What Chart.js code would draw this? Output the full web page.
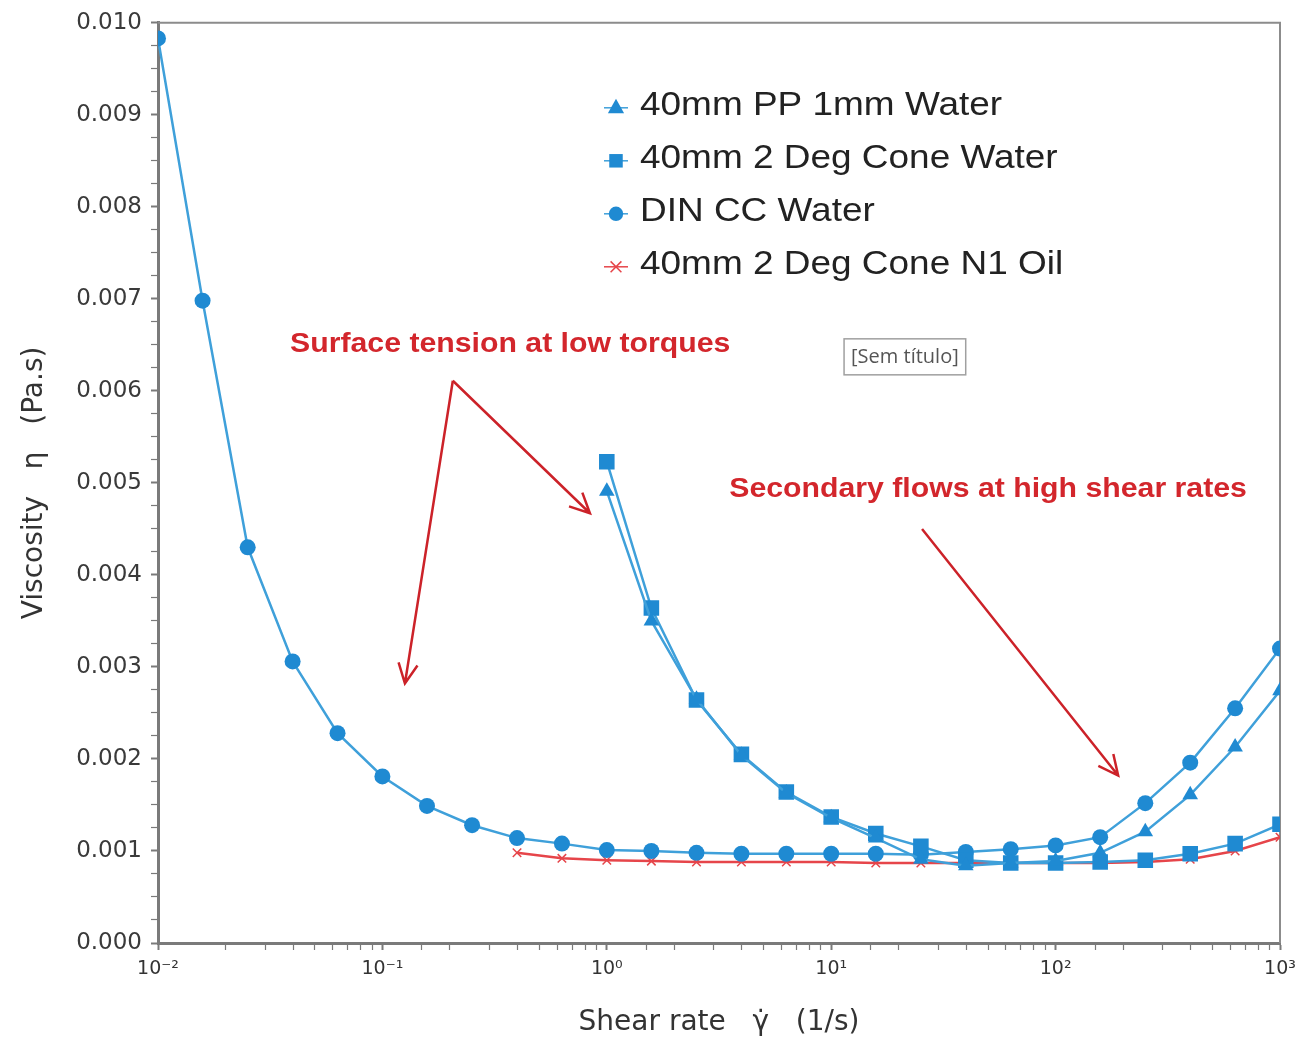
<!DOCTYPE html>
<html>
<head>
<meta charset="utf-8">
<title>Viscosity vs shear rate</title>
<script src="https://cdn.jsdelivr.net/npm/chart.js@4.4.1/dist/chart.umd.min.js"></script>
<style>
    body { margin: 0; background: #fff; }
    #wrap { width: 1307px; height: 1044px; position: relative; }
</style>
</head>
<body>
<div id="wrap"><canvas id="chartViscosity"></canvas></div>
<script>
// shear rate (1/s), 5 points per decade
const shearRate = [0.01, 0.0158, 0.0251, 0.0398, 0.0631, 0.1, 0.158, 0.251, 0.398, 0.631,
    1, 1.58, 2.51, 3.98, 6.31, 10, 15.8, 25.1, 39.8, 63.1, 100, 158, 251, 398, 631, 1000];

// viscosity (Pa.s)
const ppWater = [null, null, null, null, null, null, null, null, null, null,
    0.00491, 0.00350, 0.00265, 0.00204, 0.00163, 0.00136, 0.00114, 0.00091, 0.00084, 0.00087,
    0.00089, 0.00098, 0.00121, 0.00161, 0.00213, 0.00274];
const coneWater = [null, null, null, null, null, null, null, null, null, null,
    0.00523, 0.00364, 0.00264, 0.00205, 0.00164, 0.00137, 0.00119, 0.00105, 0.00090, 0.00087,
    0.00087, 0.00088, 0.00090, 0.00097, 0.00108, 0.00129];
const dinWater = [0.00983, 0.00698, 0.00430, 0.00306, 0.00228, 0.00181, 0.00149, 0.00128, 0.00114, 0.00108,
    0.00101, 0.00100, 0.00098, 0.00097, 0.00097, 0.00097, 0.00097, 0.00096, 0.00099, 0.00102,
    0.00106, 0.00115, 0.00152, 0.00196, 0.00255, 0.00320];
const coneOil = [null, null, null, null, null, null, null, null,
    0.00098, 0.00092, 0.00090, 0.00089, 0.00088, 0.00088, 0.00088, 0.00088, 0.00087, 0.00087,
    0.00087, 0.00087, 0.00087, 0.00087, 0.00088, 0.00091, 0.00100, 0.00115];

const seriesNames = ['40mm PP 1mm Water', '40mm 2 Deg Cone Water', 'DIN CC Water', '40mm 2 Deg Cone N1 Oil'];

const yTicksMajor = [0, 0.001, 0.002, 0.003, 0.004, 0.005, 0.006, 0.007, 0.008, 0.009, 0.010];
const xTicksMajor = [0.01, 0.1, 1, 10, 100, 1000];

const BLUE = '#1f8ad2';
const BLUE_LINE = '#3fa0da';
const RED = '#e6454a';

// the source figure's lettering is a bit wider than the installed fonts
const STRETCH = 1.12;

function points(ys) {
    return shearRate.map((x, i) => ({ x: x, y: ys[i] })).filter(p => p.y !== null);
}

function superscript(n) {
    const map = { '-': '\u207B', '0': '\u2070', '1': '\u00B9', '2': '\u00B2', '3': '\u00B3',
        '4': '\u2074', '5': '\u2075', '6': '\u2076', '7': '\u2077', '8': '\u2078', '9': '\u2079' };
    return String(n).split('').map(c => map[c]).join('');
}

function isDecade(v) {
    return xTicksMajor.some(t => Math.abs(t - v) / t < 1e-6);
}

function isMajorY(v) {
    return yTicksMajor.some(t => Math.abs(t - v) < 1e-7);
}

// annotations, placed in data coordinates
const notes = [
    { text: 'Surface tension at low torques', x: 0.371, y: 0.00650 },
    { text: 'Secondary flows at high shear rates', x: 50, y: 0.00493 }
];
const arrows = [
    { from: [0.206, 0.00611], to: [0.841, 0.00467] },
    { from: [0.206, 0.00611], to: [0.126, 0.00282] },
    { from: [25.4, 0.00450], to: [190, 0.00182] }
];
const stickyNote = { text: '[Sem t\u00EDtulo]', x: 21.3, y: 0.00637 };

function wideText(ctx, text, x, y, align) {
    const w = ctx.measureText(text).width * STRETCH;
    let left = x;
    if (align === 'center') left = x - w / 2;
    ctx.save();
    ctx.translate(left, y);
    ctx.scale(STRETCH, 1);
    ctx.textAlign = 'left';
    ctx.fillText(text, 0, 0);
    ctx.restore();
}

const framePlugin = {
    id: 'frame',
    beforeDatasetsDraw(chart) {
        const { ctx, chartArea: a } = chart;
        ctx.save();
        ctx.strokeStyle = '#8c8c8c';
        ctx.lineWidth = 2;
        ctx.beginPath();
        ctx.moveTo(a.left, a.top);
        ctx.lineTo(a.right, a.top);
        ctx.lineTo(a.right, a.bottom);
        ctx.stroke();
        ctx.restore();
    }
};

function drawMarker(ctx, style, x, y, r, color) {
    ctx.fillStyle = color;
    ctx.strokeStyle = color;
    ctx.beginPath();
    if (style === 'triangle') {
        ctx.moveTo(x, y - r);
        ctx.lineTo(x + r * 0.9, y + r * 0.6);
        ctx.lineTo(x - r * 0.9, y + r * 0.6);
        ctx.closePath();
        ctx.fill();
    } else if (style === 'rect') {
        ctx.rect(x - r * 0.75, y - r * 0.75, r * 1.5, r * 1.5);
        ctx.fill();
    } else if (style === 'circle') {
        ctx.arc(x, y, r * 0.8, 0, Math.PI * 2);
        ctx.fill();
    } else {
        ctx.lineWidth = 1.5;
        ctx.moveTo(x - r * 0.6, y - r * 0.6);
        ctx.lineTo(x + r * 0.6, y + r * 0.6);
        ctx.moveTo(x + r * 0.6, y - r * 0.6);
        ctx.lineTo(x - r * 0.6, y + r * 0.6);
        ctx.stroke();
    }
}

const legendPlugin = {
    id: 'insideLegend',
    afterDraw(chart) {
        const { ctx, chartArea: a } = chart;
        ctx.save();
        ctx.font = '33px "Liberation Sans", Arial, sans-serif';
        ctx.textBaseline = 'middle';
        chart.data.datasets.forEach((ds, i) => {
            const y = a.top + 83 + i * 53;
            const x = a.left + 458;
            ctx.strokeStyle = ds.borderColor;
            ctx.lineWidth = 1.5;
            ctx.beginPath();
            ctx.moveTo(x - 12, y + 2);
            ctx.lineTo(x + 12, y + 2);
            ctx.stroke();
            drawMarker(ctx, ds.pointStyle, x, y + 2, 9, ds.pointBackgroundColor);
            ctx.fillStyle = '#222';
            wideText(ctx, ds.label, x + 24, y, 'left');
        });
        ctx.restore();
    }
};

const notesPlugin = {
    id: 'notes',
    afterDraw(chart) {
        const { ctx } = chart;
        const xs = chart.scales.x, ys = chart.scales.y;
        ctx.save();
        ctx.font = 'bold 27px "Liberation Sans", Arial, sans-serif';
        ctx.fillStyle = '#d3262c';
        ctx.textBaseline = 'middle';
        notes.forEach(n => wideText(ctx, n.text, xs.getPixelForValue(n.x), ys.getPixelForValue(n.y), 'center'));

        ctx.strokeStyle = '#cc2229';
        ctx.lineWidth = 2.5;
        arrows.forEach(ar => {
            const x0 = xs.getPixelForValue(ar.from[0]), y0 = ys.getPixelForValue(ar.from[1]);
            const x1 = xs.getPixelForValue(ar.to[0]), y1 = ys.getPixelForValue(ar.to[1]);
            const ang = Math.atan2(y1 - y0, x1 - x0);
            ctx.beginPath();
            ctx.moveTo(x0, y0);
            ctx.lineTo(x1, y1);
            ctx.moveTo(x1 - 22 * Math.cos(ang - 0.45), y1 - 22 * Math.sin(ang - 0.45));
            ctx.lineTo(x1, y1);
            ctx.lineTo(x1 - 22 * Math.cos(ang + 0.45), y1 - 22 * Math.sin(ang + 0.45));
            ctx.stroke();
        });

        // the small labelled box
        const cx = xs.getPixelForValue(stickyNote.x), cy = ys.getPixelForValue(stickyNote.y);
        ctx.font = '20px "Open Sans", "DejaVu Sans", sans-serif';
        ctx.textAlign = 'center';
        const w = ctx.measureText(stickyNote.text).width + 14;
        ctx.fillStyle = '#fff';
        ctx.fillRect(cx - w / 2, cy - 18, w, 36);
        ctx.strokeStyle = '#a0a0a0';
        ctx.lineWidth = 1.5;
        ctx.strokeRect(cx - w / 2, cy - 18, w, 36);
        ctx.fillStyle = '#555';
        ctx.fillText(stickyNote.text, cx, cy);
        ctx.restore();
    }
};

const datasets = [
    {
        label: seriesNames[0],
        data: points(ppWater),
        pointStyle: 'triangle',
        pointRadius: 9,
    },
    {
        label: seriesNames[1],
        data: points(coneWater),
        pointStyle: 'rect',
        pointRadius: 11,
    },
    {
        label: seriesNames[2],
        data: points(dinWater),
        pointStyle: 'circle',
        pointRadius: 8,
    },
    {
        label: seriesNames[3],
        data: points(coneOil),
        pointStyle: 'crossRot',
        pointRadius: 6,
        borderColor: RED,
        pointBackgroundColor: RED,
        pointBorderColor: RED,
        pointBorderWidth: 1.5,
    }
].map(ds => Object.assign({
    borderColor: BLUE_LINE,
    pointBackgroundColor: BLUE,
    pointBorderColor: BLUE,
    pointBorderWidth: 0,
    borderWidth: 2.5,
    tension: 0,
    fill: false,
    pointHoverRadius: 9,
}, ds));

new Chart(document.getElementById('chartViscosity'), {
    type: 'line',
    data: { datasets: datasets },
    plugins: [framePlugin, legendPlugin, notesPlugin],
    options: {
        responsive: true,
        maintainAspectRatio: false,
        animation: false,
        layout: { padding: { top: 21, right: 27, left: 0, bottom: 0 } },
        plugins: {
            legend: { display: false },
            tooltip: { enabled: false }
        },
        scales: {
            x: {
                type: 'logarithmic',
                min: 0.01,
                max: 1000,
                afterFit(scale) { scale.height = 101; },
                border: { display: true, color: '#7a7a7a', width: 3 },
                grid: {
                    drawOnChartArea: false,
                    tickLength: 7,
                    tickColor: '#7a7a7a',
                    tickWidth: ctx => (ctx.tick && isDecade(ctx.tick.value) ? 2 : 1.2)
                },
                ticks: {
                    autoSkip: false,
                    maxRotation: 0,
                    padding: 8,
                    color: '#333',
                    font: { family: '"DejaVu Sans", Arial, sans-serif', size: 19 },
                    callback: v => (isDecade(v) ? '10' + superscript(Math.round(Math.log10(v))) : '')
                },
                title: {
                    display: true,
                    text: 'Shear rate   \u03B3\u0307   (1/s)',
                    color: '#333',
                    font: { family: '"DejaVu Sans", Arial, sans-serif', size: 28 },
                    padding: { top: 0, bottom: 4 }
                }
            },
            y: {
                type: 'linear',
                min: 0,
                max: 0.01,
                afterFit(scale) { scale.width = 158; },
                border: { display: true, color: '#7a7a7a', width: 3 },
                grid: {
                    drawOnChartArea: false,
                    tickLength: 7,
                    tickColor: '#7a7a7a',
                    tickWidth: ctx => (ctx.tick && isMajorY(ctx.tick.value) ? 2 : 1.2)
                },
                ticks: {
                    stepSize: 0.00025,
                    autoSkip: false,
                    padding: 9,
                    color: '#3a3a3a',
                    font: { family: '"DejaVu Sans", Arial, sans-serif', size: 23 },
                    callback: v => (isMajorY(v) ? v.toFixed(3) : '')
                },
                title: {
                    display: true,
                    text: 'Viscosity   \u03B7   (Pa.s)',
                    color: '#333',
                    font: { family: '"DejaVu Sans", Arial, sans-serif', size: 28 },
                    padding: { top: 18, bottom: 0 }
                }
            }
        }
    }
});
</script>
</body>
</html>
